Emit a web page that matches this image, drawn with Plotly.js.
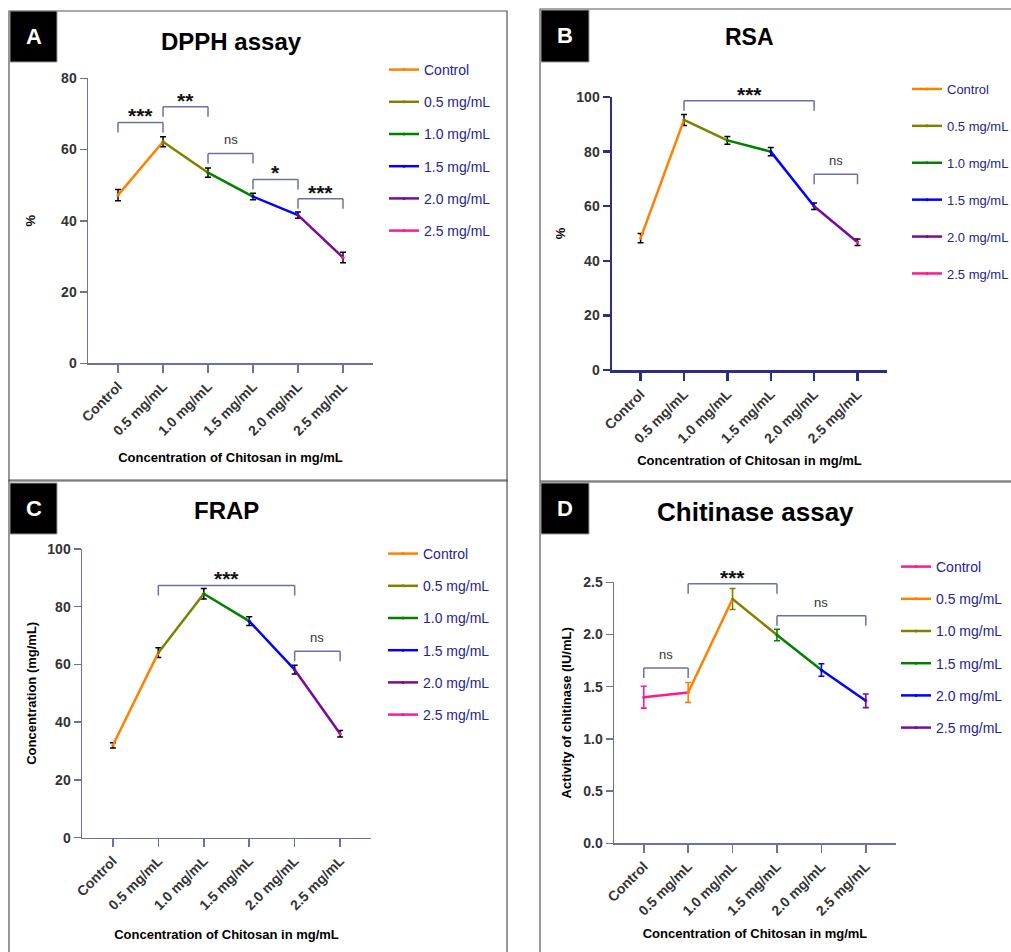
<!DOCTYPE html>
<html><head><meta charset="utf-8">
<script src="https://cdn.plot.ly/plotly-3.0.1.min.js"></script>
<style>html,body{margin:0;padding:0;background:#fff}#chart{width:1011px;height:952px}</style>
</head><body><div id="chart"></div>
<script>
// ---------------- data ----------------
const categories = ['Control', '0.5 mg/mL', '1.0 mg/mL', '1.5 mg/mL', '2.0 mg/mL', '2.5 mg/mL'];

const dpphValues = [47.2, 62.2, 53.5, 46.8, 41.6, 29.7];
const dpphErrors = [1.6, 1.4, 1.3, 0.9, 0.9, 1.5];
const rsaValues = [48.3, 91.6, 84.1, 80.0, 60.0, 46.8];
const rsaErrors = [1.7, 2.0, 1.4, 1.5, 1.2, 1.2];
const frapValues = [32.0, 64.1, 84.5, 75.0, 58.2, 36.0];
const frapErrors = [0.9, 1.7, 1.8, 1.5, 1.5, 1.1];
const chitinaseValues = [1.40, 1.445, 2.34, 1.995, 1.66, 1.365];
const chitinaseErrors = [0.105, 0.095, 0.10, 0.055, 0.06, 0.065];

const dpphSigFrom = [0, 1, 2, 3, 4];
const dpphSigTo = [1, 2, 3, 4, 5];
const dpphSigY = [67.6, 72.0, 58.9, 51.6, 46.2];
const dpphSigLabel = ['***', '**', 'ns', '*', '***'];

const rsaSigFrom = [1, 4];
const rsaSigTo = [4, 5];
const rsaSigY = [98.6, 71.7];
const rsaSigLabel = ['***', 'ns'];

const frapSigFrom = [1, 4];
const frapSigTo = [4, 5];
const frapSigY = [87.4, 64.6];
const frapSigLabel = ['***', 'ns'];

const chitSigFrom = [0, 1, 3];
const chitSigTo = [1, 3, 5];
const chitSigY = [1.68, 2.487, 2.18];
const chitSigLabel = ['ns', '***', 'ns'];

const colorsABC = ['#ff8000', '#808000', '#008000', '#0000ff', '#7a0a98', '#ff1a8c'];
const colorsD = ['#ff1a8c', '#ff8000', '#808000', '#008000', '#0000ff', '#7a0a98'];

// ---------------- helpers ----------------
const W = 1011, H = 952;
const FONT = 'Liberation Sans, Arial, sans-serif';
const fx = p => p / W;
const fy = p => 1 - p / H;

const panels = [
  {id: '', title: 'DPPH assay', tsize: 24, tpos: [231, 42], letter: 'A', box: [10, 11, 57, 62],
   frame: [9, 11, 507, 481], xd: [88, 373], yd: [363.3, 78.3], xr: [-0.667, 5.667], yr: [0, 80], dtick: 20, fmt: '',
   ytitle: '%', ystand: 22, xstand: 15, values: dpphValues, errors: dpphErrors, colors: colorsABC, errColored: false,
   sf: dpphSigFrom, st: dpphSigTo, sy: dpphSigY, sl: dpphSigLabel,
   legend: [384, 54], gap: 11, lfont: 14, axisColor: '#6d6fa8', axisWidth: 1.5},
  {id: '2', title: 'RSA', tsize: 23, tpos: [749, 37], letter: 'B', box: [541, 10, 589, 62],
   frame: [540, 9, 1016, 481], xd: [612, 887], yd: [370, 97], xr: [-0.66, 5.68], yr: [0, 100], dtick: 20, fmt: '',
   ytitle: '%', ystand: 8, xstand: 11, values: rsaValues, errors: rsaErrors, colors: colorsABC, errColored: false,
   sf: rsaSigFrom, st: rsaSigTo, sy: rsaSigY, sl: rsaSigLabel,
   legend: [907, 74], gap: 17, lfont: 13, axisColor: '#2c2f7e', axisWidth: 2.5},
  {id: '3', title: 'FRAP', tsize: 24, tpos: [226, 510], letter: 'C', box: [10, 483, 57, 534],
   frame: [9, 480, 507, 960], xd: [82, 371], yd: [837.7, 549], xr: [-0.68, 5.68], yr: [0, 100], dtick: 20, fmt: '',
   ytitle: 'Concentration (mg/mL)', ystand: 8, xstand: 18, values: frapValues, errors: frapErrors, colors: colorsABC, errColored: false,
   sf: frapSigFrom, st: frapSigTo, sy: frapSigY, sl: frapSigLabel,
   legend: [383, 538], gap: 11, lfont: 14, axisColor: '#6d6fa8', axisWidth: 1.5},
  {id: '4', title: 'Chitinase assay', tsize: 26, tpos: [755, 512], letter: 'D', box: [541, 483, 589, 534],
   frame: [540, 482, 1016, 960], xd: [614, 896], yd: [843.3, 582.3], xr: [-0.67, 5.68], yr: [0, 2.5], dtick: 0.5, fmt: '.1f',
   ytitle: 'Activity of chitinase (IU/mL)', ystand: 8, xstand: 11, values: chitinaseValues, errors: chitinaseErrors, colors: colorsD, errColored: true,
   sf: chitSigFrom, st: chitSigTo, sy: chitSigY, sl: chitSigLabel,
   legend: [896, 551], gap: 11, lfont: 14, axisColor: '#6d6fa8', axisWidth: 1.5}
];

const traces = [];
const layout = {
  width: W, height: H,
  margin: {l: 0, r: 0, t: 0, b: 0, autoexpand: false},
  paper_bgcolor: '#ffffff', plot_bgcolor: 'rgba(0,0,0,0)',
  font: {family: FONT},
  showlegend: true,
  shapes: [], annotations: []
};

panels.forEach(p => {
  const xa = 'x' + p.id, ya = 'y' + p.id;
  const legId = 'legend' + p.id;
  const bracketColor = '#6d6fa8';

  // axes
  layout['xaxis' + p.id] = {
    domain: [fx(p.xd[0]), fx(p.xd[1])], anchor: ya, type: 'category',
    categoryorder: 'array', categoryarray: categories, range: p.xr,
    showline: true, linecolor: p.axisColor, linewidth: p.axisWidth,
    ticks: 'outside', ticklen: 8, tickwidth: p.axisWidth, tickcolor: p.axisColor,
    tickangle: -45, tickfont: {family: FONT, size: 14, color: '#333333', weight: 'bold'},
    showgrid: false, zeroline: false, fixedrange: true,
    title: {text: 'Concentration of Chitosan in mg/mL', standoff: p.xstand,
            font: {family: FONT, size: 13, color: '#000000', weight: 'bold'}}
  };
  layout['yaxis' + p.id] = {
    domain: [fy(p.yd[0]), fy(p.yd[1])], anchor: xa, range: p.yr, dtick: p.dtick, tick0: 0,
    tickformat: p.fmt,
    showline: true, linecolor: p.axisColor, linewidth: p.axisWidth,
    ticks: 'outside', ticklen: 7, tickwidth: p.axisWidth, tickcolor: p.axisColor,
    tickfont: {family: FONT, size: 14, color: '#333333', weight: 'bold'},
    showgrid: false, zeroline: false, fixedrange: true,
    title: {text: p.ytitle, standoff: p.ystand,
            font: {family: FONT, size: 13, color: '#000000', weight: 'bold'}}
  };

  // legend
  layout[legId] = {
    x: fx(p.legend[0]), y: fy(p.legend[1]), xanchor: 'left', yanchor: 'top',
    xref: 'paper', yref: 'paper',
    bgcolor: 'rgba(0,0,0,0)', borderwidth: 0,
    font: {family: FONT, size: p.lfont, color: '#24248c'},
    tracegroupgap: p.gap, traceorder: 'grouped'
  };

  // error bars
  if (p.errColored) {
    categories.forEach((c, i) => {
      traces.push({
        type: 'scatter', mode: 'markers', x: [c], y: [p.values[i]], xaxis: xa, yaxis: ya,
        marker: {size: 1, color: 'rgba(0,0,0,0)'}, showlegend: false, hoverinfo: 'skip',
        error_y: {type: 'data', array: [p.errors[i]], color: p.colors[i], thickness: 1.6, width: 3}
      });
    });
  } else {
    traces.push({
      type: 'scatter', mode: 'markers', x: categories, y: p.values, xaxis: xa, yaxis: ya,
      marker: {size: 1, color: 'rgba(0,0,0,0)'}, showlegend: false, hoverinfo: 'skip',
      error_y: {type: 'data', array: p.errors, color: '#000000', thickness: 1.5, width: 3}
    });
  }

  // coloured segments, one series per concentration
  categories.forEach((c, i) => {
    const last = i === categories.length - 1;
    traces.push({
      type: 'scatter', mode: 'lines+markers', name: c,
      x: last ? [c] : [c, categories[i + 1]],
      y: last ? [p.values[i]] : [p.values[i], p.values[i + 1]],
      xaxis: xa, yaxis: ya, legend: legId, legendgroup: p.letter + i,
      line: {color: p.colors[i], width: 2.5},
      marker: {size: 3, color: p.colors[i]},
      hoverinfo: 'x+y'
    });
  });

  // significance brackets
  const pxPerUnit = (p.yd[0] - p.yd[1]) / (p.yr[1] - p.yr[0]);
  const leg = 10 / pxPerUnit;
  p.sf.forEach((f, k) => {
    const t = p.st[k], y = p.sy[k];
    const base = {type: 'line', xref: xa, yref: ya, line: {color: bracketColor, width: 1.5}};
    layout.shapes.push(Object.assign({}, base, {x0: f, x1: t, y0: y, y1: y}));
    layout.shapes.push(Object.assign({}, base, {x0: f, x1: f, y0: y, y1: y - leg}));
    layout.shapes.push(Object.assign({}, base, {x0: t, x1: t, y0: y, y1: y - leg}));
    const isNs = p.sl[k] === 'ns';
    layout.annotations.push({
      xref: xa, yref: ya, x: (f + t) / 2, y: y, yanchor: 'bottom', xanchor: 'center',
      showarrow: false, text: p.sl[k], yshift: isNs ? 4 : -7,
      font: isNs ? {family: FONT, size: 13, color: '#333333'}
                 : {family: FONT, size: 21, color: '#111111', weight: 'bold'}
    });
  });

  // panel frame
  layout.shapes.push({type: 'rect', xref: 'paper', yref: 'paper', layer: 'below',
    x0: fx(p.frame[0]), x1: fx(p.frame[2]), y0: fy(p.frame[1]), y1: fy(p.frame[3]),
    line: {color: '#555555', width: 1.2}, fillcolor: 'rgba(0,0,0,0)'});
  // letter box
  layout.shapes.push({type: 'rect', xref: 'paper', yref: 'paper',
    x0: fx(p.box[0]), x1: fx(p.box[2]), y0: fy(p.box[1]), y1: fy(p.box[3]),
    line: {color: '#9a9a9a', width: 1}, fillcolor: '#000000'});
  layout.annotations.push({xref: 'paper', yref: 'paper', showarrow: false,
    x: fx((p.box[0] + p.box[2]) / 2), y: fy((p.box[1] + p.box[3]) / 2),
    xanchor: 'center', yanchor: 'middle', text: p.letter,
    font: {family: FONT, size: 22, color: '#ffffff', weight: 'bold'}});
  // panel title
  layout.annotations.push({xref: 'paper', yref: 'paper', showarrow: false,
    x: fx(p.tpos[0]), y: fy(p.tpos[1]), xanchor: 'center', yanchor: 'middle', text: p.title,
    font: {family: FONT, size: p.tsize, color: '#000000', weight: 'bold'}});
});

Plotly.newPlot('chart', traces, layout, {displayModeBar: false, staticPlot: true});
</script>
</body></html>
